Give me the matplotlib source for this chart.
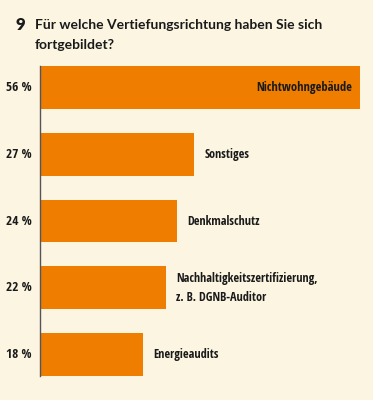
import matplotlib.pyplot as plt

categories = ['Nichtwohngebäude', 'Sonstiges', 'Denkmalschutz',
              'Nachhaltigkeitszertifizierung,\nz. B. DGNB-Auditor', 'Energieaudits']
values = [56, 27, 24, 22, 18]
value_labels = ['56 %', '27 %', '24 %', '22 %', '18 %']

bg = '#fbf5e2'
orange = '#ee7d00'
ink = '#1a1a1a'
fam = ['Open Sans Condensed', 'DejaVu Sans']
title_fam = ['Lato', 'DejaVu Sans']

fig = plt.figure(figsize=(3.73, 4.0), dpi=100, facecolor=bg)
ax = fig.add_axes([40 / 373, 0.06, 320 / 373, 0.775])
ax.set_facecolor(bg)

pos = range(len(values))
ax.barh(pos, values, height=0.64, color=orange)
ax.set_xlim(0, 56)
ax.set_ylim(4.32, -0.32)

for i, (v, lab, vl) in enumerate(zip(values, categories, value_labels)):
    if i == 0:
        ax.text(v - 1.4, i, lab, ha='right', va='center', fontsize=9,
                fontweight='bold', family=fam, color=ink)
    else:
        ax.text(v + 1.8, i, lab, ha='left', va='center', fontsize=8.8,
                fontweight='bold', family=fam, color=ink, linespacing=1.6)
    ax.text(-1.4, i, vl, ha='right', va='center', fontsize=9.5,
            fontweight='bold', family=fam, color=ink)

for s in ['top', 'right', 'bottom']:
    ax.spines[s].set_visible(False)
ax.spines['left'].set_color('#555555')
ax.spines['left'].set_linewidth(1)
ax.set_xticks([])
ax.set_yticks([])

fig.text(16 / 373, 1 - 25 / 400, '9', fontsize=12, fontweight='heavy',
         family=title_fam, va='center', color=ink)
fig.text(35 / 373, 1 - 25 / 400, 'Für welche Vertiefungsrichtung haben Sie sich',
         fontsize=10, fontweight='bold', family=title_fam,
         va='center', color=ink)
fig.text(35 / 373, 1 - 45 / 400, 'fortgebildet?',
         fontsize=10, fontweight='bold', family=title_fam,
         va='center', color=ink)

fig.savefig('out.png', dpi=100, facecolor=bg)
